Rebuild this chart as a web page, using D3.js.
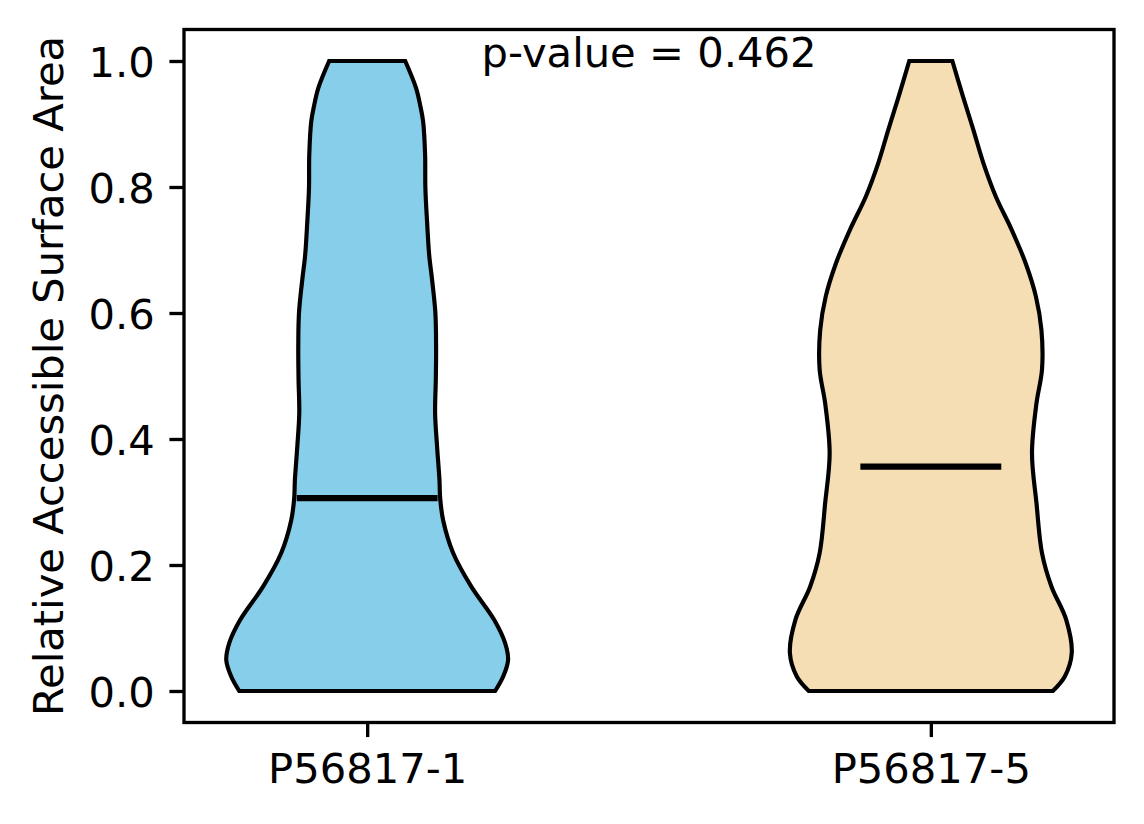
<!DOCTYPE html>
<html>
<head>
<meta charset="utf-8">
<script src="https://cdn.jsdelivr.net/npm/d3@7"></script>
<style>
  body { margin: 0; background: #fff; }
  text { font-family: "DejaVu Sans", sans-serif; fill: #000; }
</style>
</head>
<body>
<svg id="chart" width="1144" height="824"></svg>
<script>
// violin data: sample y values and relative density (max = 1)
const groups = ['P56817-1', 'P56817-5'];
const positions = [1, 2];
const colors = ['#87CEEB', '#F5DEB3'];
const medians = [0.306, 0.356];
const pValue = 0.462;

const gridLeft = [0, 0.023, 0.049, 0.076, 0.113, 0.166, 0.219, 0.271, 0.306, 0.335,
  0.388, 0.441, 0.494, 0.547, 0.6, 0.652, 0.692, 0.745, 0.798, 0.851, 0.904, 0.93,
  0.957, 1.0];
const densityLeft = [0.908, 0.965, 1.0, 0.979, 0.901, 0.738, 0.61, 0.539, 0.518, 0.513,
  0.496, 0.482, 0.487, 0.489, 0.484, 0.461, 0.44, 0.425, 0.413, 0.411, 0.397, 0.376,
  0.347, 0.27];

const gridRight = [0, 0.023, 0.06, 0.113, 0.166, 0.219, 0.298, 0.377, 0.457, 0.51,
  0.573, 0.626, 0.679, 0.732, 0.785, 0.838, 0.89, 0.943, 1.0];
const densityRight = [0.866, 0.951, 1.0, 0.961, 0.856, 0.789, 0.75, 0.718, 0.75, 0.789,
  0.785, 0.746, 0.673, 0.574, 0.461, 0.373, 0.303, 0.229, 0.153];

const yTicks = [0, 0.2, 0.4, 0.6, 0.8, 1.0];

const grids = [gridLeft, gridRight];
const densities = [densityLeft, densityRight];

// matplotlib-ish sizes at 300 dpi
const pt = 300 / 72;
const fontSize = 10 * pt;
const violinWidth = 0.5;

var svg = d3.select('#chart');
// (don't call these top/left: window.top is read-only)
var axLeft = 184, axRight = 1114, axTop = 29.5, axBottom = 722.5;

var x = d3.scaleLinear().domain([0.675, 2.325]).range([axLeft, axRight]);
var y = d3.scaleLinear().domain([-0.05, 1.05]).range([axBottom, axTop]);

svg.append('rect').attr('width', 1144).attr('height', 824).attr('fill', '#fff');

var plot = svg.append('g');

groups.forEach(function (name, i) {
  var pos = positions[i];
  var pts = grids[i].map((v, j) => ({ v: v, d: densities[i][j] }));
  var area = d3.area()
    .curve(d3.curveCatmullRom.alpha(0.5))
    .y(d => y(d.v))
    .x0(d => x(pos - d.d * violinWidth / 2))
    .x1(d => x(pos + d.d * violinWidth / 2));

  plot.append('path')
    .datum(pts)
    .attr('d', area)
    .attr('fill', colors[i])
    .attr('stroke', '#000')
    .attr('stroke-width', 1 * pt)
    .attr('stroke-linejoin', 'miter');

  plot.append('line')
    .attr('x1', x(pos - violinWidth / 4))
    .attr('x2', x(pos + violinWidth / 4))
    .attr('y1', y(medians[i]))
    .attr('y2', y(medians[i]))
    .attr('stroke', '#000')
    .attr('stroke-width', 1.5 * pt);
});

// axes
var yAxis = d3.axisLeft(y)
  .tickValues(yTicks)
  .tickFormat(d3.format('.1f'))
  .tickSize(3.5 * pt)
  .tickPadding(3.5 * pt);

var xAxis = d3.axisBottom(x)
  .tickValues(positions)
  .tickFormat((d, i) => groups[i])
  .tickSize(3.5 * pt)
  .tickPadding(3.5 * pt);

var gy = svg.append('g').attr('transform', `translate(${axLeft},0)`).call(yAxis);
var gx = svg.append('g').attr('transform', `translate(0,${axBottom})`).call(xAxis);

[gx, gy].forEach(function (g) {
  g.select('.domain').remove();
  g.selectAll('.tick line').attr('stroke', '#000').attr('stroke-width', 0.8 * pt);
  g.selectAll('.tick text')
    .attr('fill', '#000')
    .style('font-family', '"DejaVu Sans", sans-serif')
    .style('font-size', fontSize + 'px');
});
gy.selectAll('.tick text').attr('dy', '0.36em');
gx.selectAll('.tick text').attr('dy', '0.76em');

svg.append('rect')
  .attr('x', axLeft).attr('y', axTop)
  .attr('width', axRight - axLeft).attr('height', axBottom - axTop)
  .attr('fill', 'none')
  .attr('stroke', '#000')
  .attr('stroke-width', 0.8 * pt);

svg.append('text')
  .attr('transform', `translate(63,${(axTop + axBottom) / 2}) rotate(-90)`)
  .attr('text-anchor', 'middle')
  .style('font-size', fontSize + 'px')
  .text('Relative Accessible Surface Area');

svg.append('text')
  .attr('x', x(1.5))
  .attr('y', y(1.0) + 5.5)
  .attr('text-anchor', 'middle')
  .style('font-size', fontSize + 'px')
  .text(`p-value = ${pValue}`);
</script>
</body>
</html>
